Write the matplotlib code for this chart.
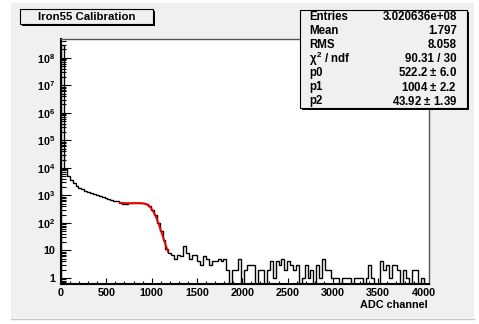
import numpy as np
import matplotlib
matplotlib.use("Agg")
import matplotlib.pyplot as plt
from matplotlib.patches import Rectangle
from matplotlib.lines import Line2D
from matplotlib.ticker import FixedLocator, FixedFormatter, LogLocator, MultipleLocator, NullFormatter

plt.rcParams['font.family'] = ['Liberation Sans', 'DejaVu Sans']
plt.rcParams['font.weight'] = 'bold'
plt.rcParams['mathtext.fontset'] = 'custom'
plt.rcParams['mathtext.rm'] = 'Liberation Sans:bold'
plt.rcParams['mathtext.bf'] = 'Liberation Sans:bold'
plt.rcParams['mathtext.it'] = 'Liberation Sans:bold'

# ---------------- data ----------------
title = "Iron55 Calibration"
x_label = "ADC channel"
bin_width = 32
counts = [
    3.0e8, 9000, 5000, 3500, 2700, 2200, 1900, 1650, 1450, 1300,
    1200, 1100, 1000, 930, 870, 820, 760, 700, 640, 600,
    540, 500, 470, 510, 520, 525, 530, 540, 510, 470,
    400, 290, 190, 100, 50, 24, 11, 8, 7, 5,
    7, 6, 14, 8, 5, 7, 7, 4, 3, 6,
    5, 3, 4, 4, 5, 4, 5, 2, 0, 2,
    2, 5, 0, 2, 3, 3, 3, 0, 2, 2,
    0, 2, 4, 1, 4, 3, 5, 2, 4, 3,
    2, 3, 0, 1, 3, 1, 2, 0, 3, 1,
    5, 2, 2, 1, 1, 1, 0, 1, 1, 1,
    0, 1, 1, 1, 0, 1, 3, 1, 0, 0,
    4, 2, 3, 1, 3, 3, 2, 0, 2, 1,
    0, 2, 2, 0, 1, 0, 0,
]
fit_x = [650, 700, 750, 800, 850, 900, 940, 970, 1000, 1020, 1040,
         1060, 1080, 1100, 1120, 1140, 1160, 1180]
fit_y = [540, 520, 518, 522, 525, 515, 480, 420, 320, 250, 190,
         130, 85, 55, 35, 22, 14, 9]
x_ticks = [0, 500, 1000, 1500, 2000, 2500, 3000, 3500, 4000]
y_ticks = [1, 10, 1e2, 1e3, 1e4, 1e5, 1e6, 1e7, 1e8]
y_tick_labels = ["1", "10", r"$10^{2}$", r"$10^{3}$", r"$10^{4}$", r"$10^{5}$",
                 r"$10^{6}$", r"$10^{7}$", r"$10^{8}$"]
stat_names = ["Entries", "Mean", "RMS", r"$\chi^{2}$ / ndf", "p0", "p1", "p2"]
stat_values = ["3.020636e+08", "1.797", "8.058", "90.31 / 30",
               "522.2 $\\pm$ 6.0", "1004 $\\pm$ 2.2", "43.92 $\\pm$ 1.39"]
x_range = (0, 4060)
y_range = (0.6, 4.8e8)

# ---------------- figure ----------------
W, H = 479, 324
fig = plt.figure(figsize=(W / 100, H / 100), dpi=100)
fig.patch.set_facecolor('white')

def fx(px):
    return px / W

def fy(py):
    return 1 - py / H

# pad background
fig.add_artist(Rectangle((fx(11), fy(318)), fx(463), 315 / H, transform=fig.transFigure,
                         facecolor='#f0f0f0', edgecolor='none', zorder=0))
fig.add_artist(Line2D([fx(11), fx(474)], [fy(318.5), fy(318.5)], transform=fig.transFigure,
                      color='#c8c8c8', lw=1, zorder=1))

ax = fig.add_axes([fx(61), fy(284), fx(368), 245 / H])
ax.set_facecolor('white')

edges = np.arange(len(counts) + 1) * bin_width
ax.stairs(counts, edges, color='black', lw=1.0, baseline=0)
ax.plot(fit_x, fit_y, color='#ee0000', lw=1.4)

ax.set_yscale('log')
ax.set_xlim(*x_range)
ax.set_ylim(*y_range)

ax.xaxis.set_major_locator(FixedLocator(x_ticks))
ax.xaxis.set_minor_locator(MultipleLocator(100))
ax.yaxis.set_major_locator(FixedLocator(y_ticks))
ax.yaxis.set_major_formatter(FixedFormatter(y_tick_labels))
ax.yaxis.set_minor_locator(LogLocator(base=10, subs=np.arange(2, 10), numticks=20))
ax.yaxis.set_minor_formatter(NullFormatter())

ax.tick_params(axis='x', which='major', direction='in', length=4.5, width=0.8,
               labelsize=7.8, pad=3, top=False)
ax.tick_params(axis='x', which='minor', direction='in', length=2.3, width=0.8, top=False)
ax.tick_params(axis='y', which='major', direction='in', length=7, width=0.8,
               labelsize=7.8, pad=4, right=False)
ax.tick_params(axis='y', which='minor', direction='in', length=3.5, width=0.8, right=False)
for lab in ax.get_xticklabels() + ax.get_yticklabels():
    lab.set_fontweight('bold')

for s in ['left', 'bottom']:
    ax.spines[s].set_linewidth(1.5)
    ax.spines[s].set_color('black')
for s in ['top', 'right']:
    ax.spines[s].set_linewidth(1.0)
    ax.spines[s].set_color('#555555')

fig.text(fx(428), fy(305), x_label, ha='right', va='center', fontsize=7.8, fontweight='bold')

# title box
fig.add_artist(Rectangle((fx(22), fy(26)), fx(133), 14.7 / H, transform=fig.transFigure,
                         facecolor='black', edgecolor='none', zorder=5))
fig.add_artist(Rectangle((fx(20), fy(24)), fx(133), 14.7 / H, transform=fig.transFigure,
                         facecolor='#f0f0f0', edgecolor='black', lw=0.8, zorder=6))
fig.text(fx(86.5), fy(17.5), title, ha='center', va='center', fontsize=8.2,
         fontweight='bold', zorder=7)

# stats box
fig.add_artist(Rectangle((fx(302), fy(110)), fx(167), 98 / H, transform=fig.transFigure,
                         facecolor='black', edgecolor='none', zorder=5))
fig.add_artist(Rectangle((fx(300), fy(108)), fx(167), 98 / H, transform=fig.transFigure,
                         facecolor='#f0f0f0', edgecolor='black', lw=0.8, zorder=6))
row_y = [17.5, 31.5, 45, 59, 73, 87, 101]
for yy, name, val in zip(row_y, stat_names, stat_values):
    fig.text(fx(309), fy(yy), name, ha='left', va='center', fontsize=8.3,
             fontweight='bold', zorder=7)
    fig.text(fx(457), fy(yy), val, ha='right', va='center', fontsize=8.3,
             fontweight='bold', zorder=7)

fig.savefig('out.png', dpi=100)
